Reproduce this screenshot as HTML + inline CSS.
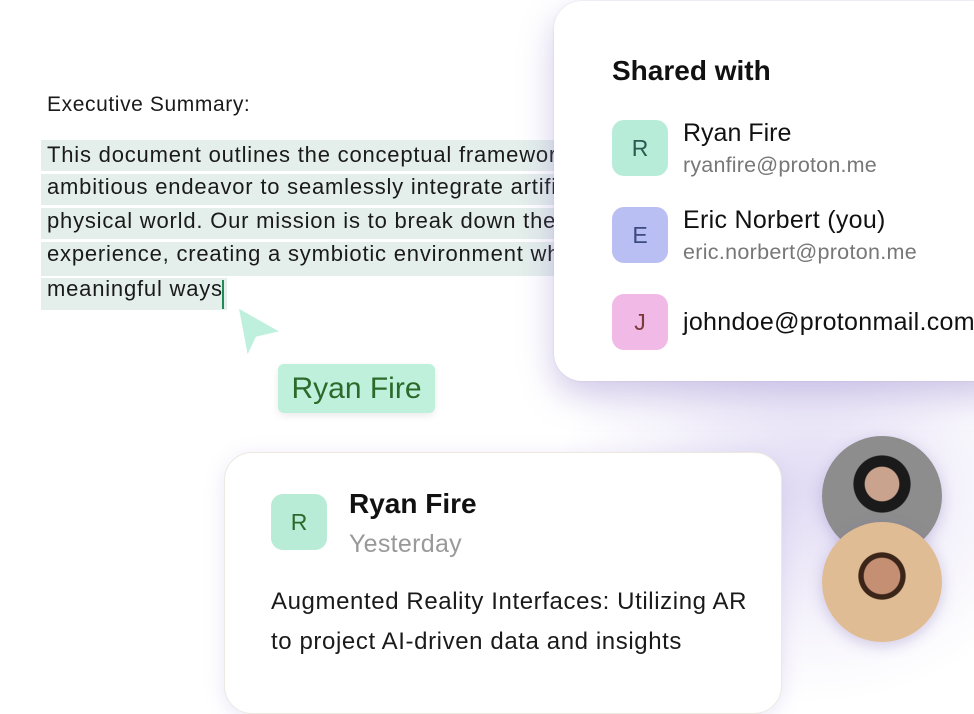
<!DOCTYPE html>
<html><head><style>
body{margin:0;width:974px;height:669px;overflow:hidden;background:#fff;font-family:"Liberation Sans",sans-serif;position:relative}
.a{position:absolute}
.glow{position:absolute;left:560px;top:280px;width:500px;height:420px;border-radius:50%;background:radial-gradient(ellipse at center,rgba(200,190,235,.55),rgba(230,225,245,.3) 50%,rgba(255,255,255,0) 72%)}
.hl{position:absolute;left:41px;background:#e4efeb;height:31px}
.t{position:absolute;left:47px;font-size:22px;letter-spacing:0.8px;color:#1a1a1a;white-space:nowrap}
.card{position:absolute;background:#fff;border-radius:28px}
.av{position:absolute;width:56px;height:56px;border-radius:12px;font-size:23px;display:flex;align-items:center;justify-content:center}
</style></head><body>
<div class="glow"></div>
<div class="a" style="left:47px;top:93px;font-size:21px;letter-spacing:0.6px;color:#1a1a1a">Executive Summary:</div>
<div class="hl" style="top:140px;width:520px"></div>
<div class="hl" style="top:174px;width:520px"></div>
<div class="hl" style="top:208px;width:520px"></div>
<div class="hl" style="top:242px;width:520px;height:34px"></div>
<div class="hl" style="top:278px;width:186px;height:32px"></div>
<div class="t" style="top:142px">This document outlines the conceptual framework</div>
<div class="t" style="top:174px">ambitious endeavor to seamlessly integrate artificial</div>
<div class="t" style="top:208px">physical world. Our mission is to break down the</div>
<div class="t" style="top:241px">experience, creating a symbiotic environment where</div>
<div class="t" style="top:276px">meaningful ways</div>
<div class="a" style="left:222px;top:280px;width:2px;height:29px;background:#1f8a5a"></div>
<svg class="a" style="left:230px;top:300px" width="60" height="64"><polygon points="7,6 53,32 27,38 17,59" fill="#bff0dd" stroke="#fff" stroke-width="3" stroke-linejoin="round"/></svg>
<div class="a" style="left:278px;top:364px;width:157px;height:49px;background:#bff0dc;border-radius:6px;box-shadow:0 3px 8px rgba(0,0,0,.08);font-size:30px;color:#2b6a2b;line-height:49px;text-align:center">Ryan Fire</div>

<div class="card" style="left:554px;top:1px;width:460px;height:380px;box-shadow:0 14px 34px rgba(140,120,200,.4),0 0 2px rgba(0,0,0,.1)"></div>
<div class="a" style="left:612px;top:55px;font-size:28px;font-weight:bold;color:#111">Shared with</div>
<div class="av" style="left:612px;top:120px;background:#b7ecd8;color:#2d5a52">R</div>
<div class="a" style="left:683px;top:119px;font-size:25px;color:#111">Ryan Fire</div>
<div class="a" style="left:683px;top:153px;font-size:21.5px;color:#777;letter-spacing:0.2px">ryanfire@proton.me</div>
<div class="av" style="left:612px;top:207px;background:#b9bff2;color:#3d4a80">E</div>
<div class="a" style="left:683px;top:206px;font-size:25px;color:#111;letter-spacing:0.3px">Eric Norbert (you)</div>
<div class="a" style="left:683px;top:240px;font-size:21.5px;color:#777;letter-spacing:0.3px">eric.norbert@proton.me</div>
<div class="av" style="left:612px;top:294px;background:#f0b9e6;color:#7a3a3a">J</div>
<div class="a" style="left:683px;top:308px;font-size:25px;color:#111;white-space:nowrap;letter-spacing:0.3px">johndoe@protonmail.com</div>

<div class="card" style="left:224px;top:452px;width:556px;height:260px;border:1.5px solid #ece9e0;box-shadow:0 4px 20px rgba(150,130,210,.2)"></div>
<div class="av" style="left:271px;top:494px;background:#b8ecd6;color:#2b6a2b">R</div>
<div class="a" style="left:349px;top:488px;font-size:28px;font-weight:bold;color:#111">Ryan Fire</div>
<div class="a" style="left:349px;top:530px;font-size:25px;color:#999;letter-spacing:0.3px">Yesterday</div>
<div class="a" style="left:271px;top:582px;font-size:24px;letter-spacing:0.6px;color:#1a1a1a;line-height:40px;white-space:nowrap">Augmented Reality Interfaces: Utilizing AR<br>to project AI-driven data and insights</div>

<div class="a" style="left:822px;top:436px;width:120px;height:120px;border-radius:50%;background:radial-gradient(circle at 50% 40%,#c9a38d 0 18%,#1a1a1a 19% 30%,#8d8d8d 31%);box-shadow:0 4px 14px rgba(120,100,180,.3)"></div>
<div class="a" style="left:822px;top:522px;width:120px;height:120px;border-radius:50%;background:radial-gradient(circle at 50% 45%,#c58f73 0 20%,#3a2518 21% 26%,#e0bc94 27%);box-shadow:0 4px 14px rgba(120,100,180,.3)"></div>
</body></html>
